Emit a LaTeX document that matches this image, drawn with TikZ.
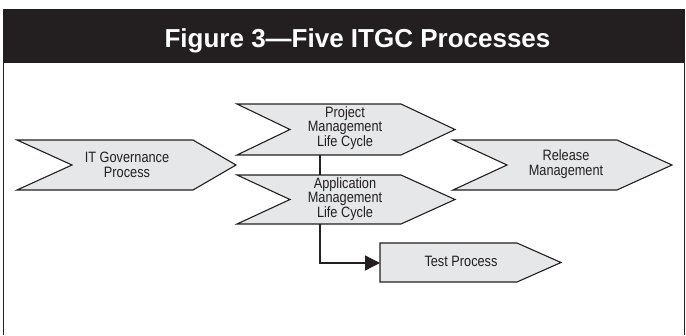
\documentclass[tikz,border=0pt]{standalone}
\usepackage{fontspec}
\setmainfont[FakeStretch=0.85]{Liberation Sans}
\newfontfamily\titlefont{Liberation Sans}
\usetikzlibrary{arrows.meta}
\definecolor{ink}{HTML}{231F20}
\definecolor{shapefill}{HTML}{E6E7E8}
\begin{document}
\begin{tikzpicture}[x=1pt,y=-1pt,
  procshape/.style={draw=ink,fill=shapefill,line width=1.1pt,line join=miter},
  proctext/.style={text=ink,font=\fontsize{15}{14.5}\selectfont,align=center,inner sep=0pt},
  link/.style={draw=ink,line width=1.3pt},
  frameline/.style={draw=ink,line width=1.3pt}]
\useasboundingbox (0,0) rectangle (686,335);
% frame and header
\fill[ink] (3,9) rectangle (684,63);
\draw[frameline] (3.6,9) -- (3.6,335);
\draw[frameline] (684.2,9) -- (684.2,335);
\node[anchor=base,text=white,inner sep=0pt,font=\titlefont\bfseries\fontsize{26}{28}\selectfont] (title) at (357.5,47) {Figure 3—Five ITGC Processes};
% shapes
\draw[procshape] (17,140) -- (193,140) -- (236,165) -- (193,190) -- (17,190) -- (72,165) -- cycle;
\draw[procshape] (237,104) -- (401,104) -- (455,129.5) -- (401,155) -- (237,155) -- (290,129.5) -- cycle;
\draw[procshape] (237,175) -- (401,175) -- (455,199.5) -- (401,224) -- (237,224) -- (290,199.5) -- cycle;
\draw[procshape] (453,140) -- (617,140) -- (672,165) -- (617,190) -- (453,190) -- (507,165) -- cycle;
\draw[procshape] (380,243) -- (517,243) -- (561,262.5) -- (517,282) -- (380,282) -- cycle;
% texts
\node[proctext] (itg) at (127,165) {IT Governance\\Process};
\node[proctext] (pm) at (345,128) {Project\\Management\\Life Cycle};
\node[proctext] (am) at (345,199) {Application\\Management\\Life Cycle};
\node[proctext] (rm) at (566,164) {Release\\Management};
\node[proctext] (tp) at (461,261) {Test Process};
% connector anchors on shape edges
\coordinate (pmB) at (320,155);
\coordinate (amT) at (320,175);
\coordinate (amB) at (320,224);
\coordinate (tpL) at (380,263);
\draw[link] (pmB) -- (amT);
\draw[link,-{Triangle[length=15pt,width=15pt]}] (amB) |- (tpL);
\end{tikzpicture}
\end{document}
